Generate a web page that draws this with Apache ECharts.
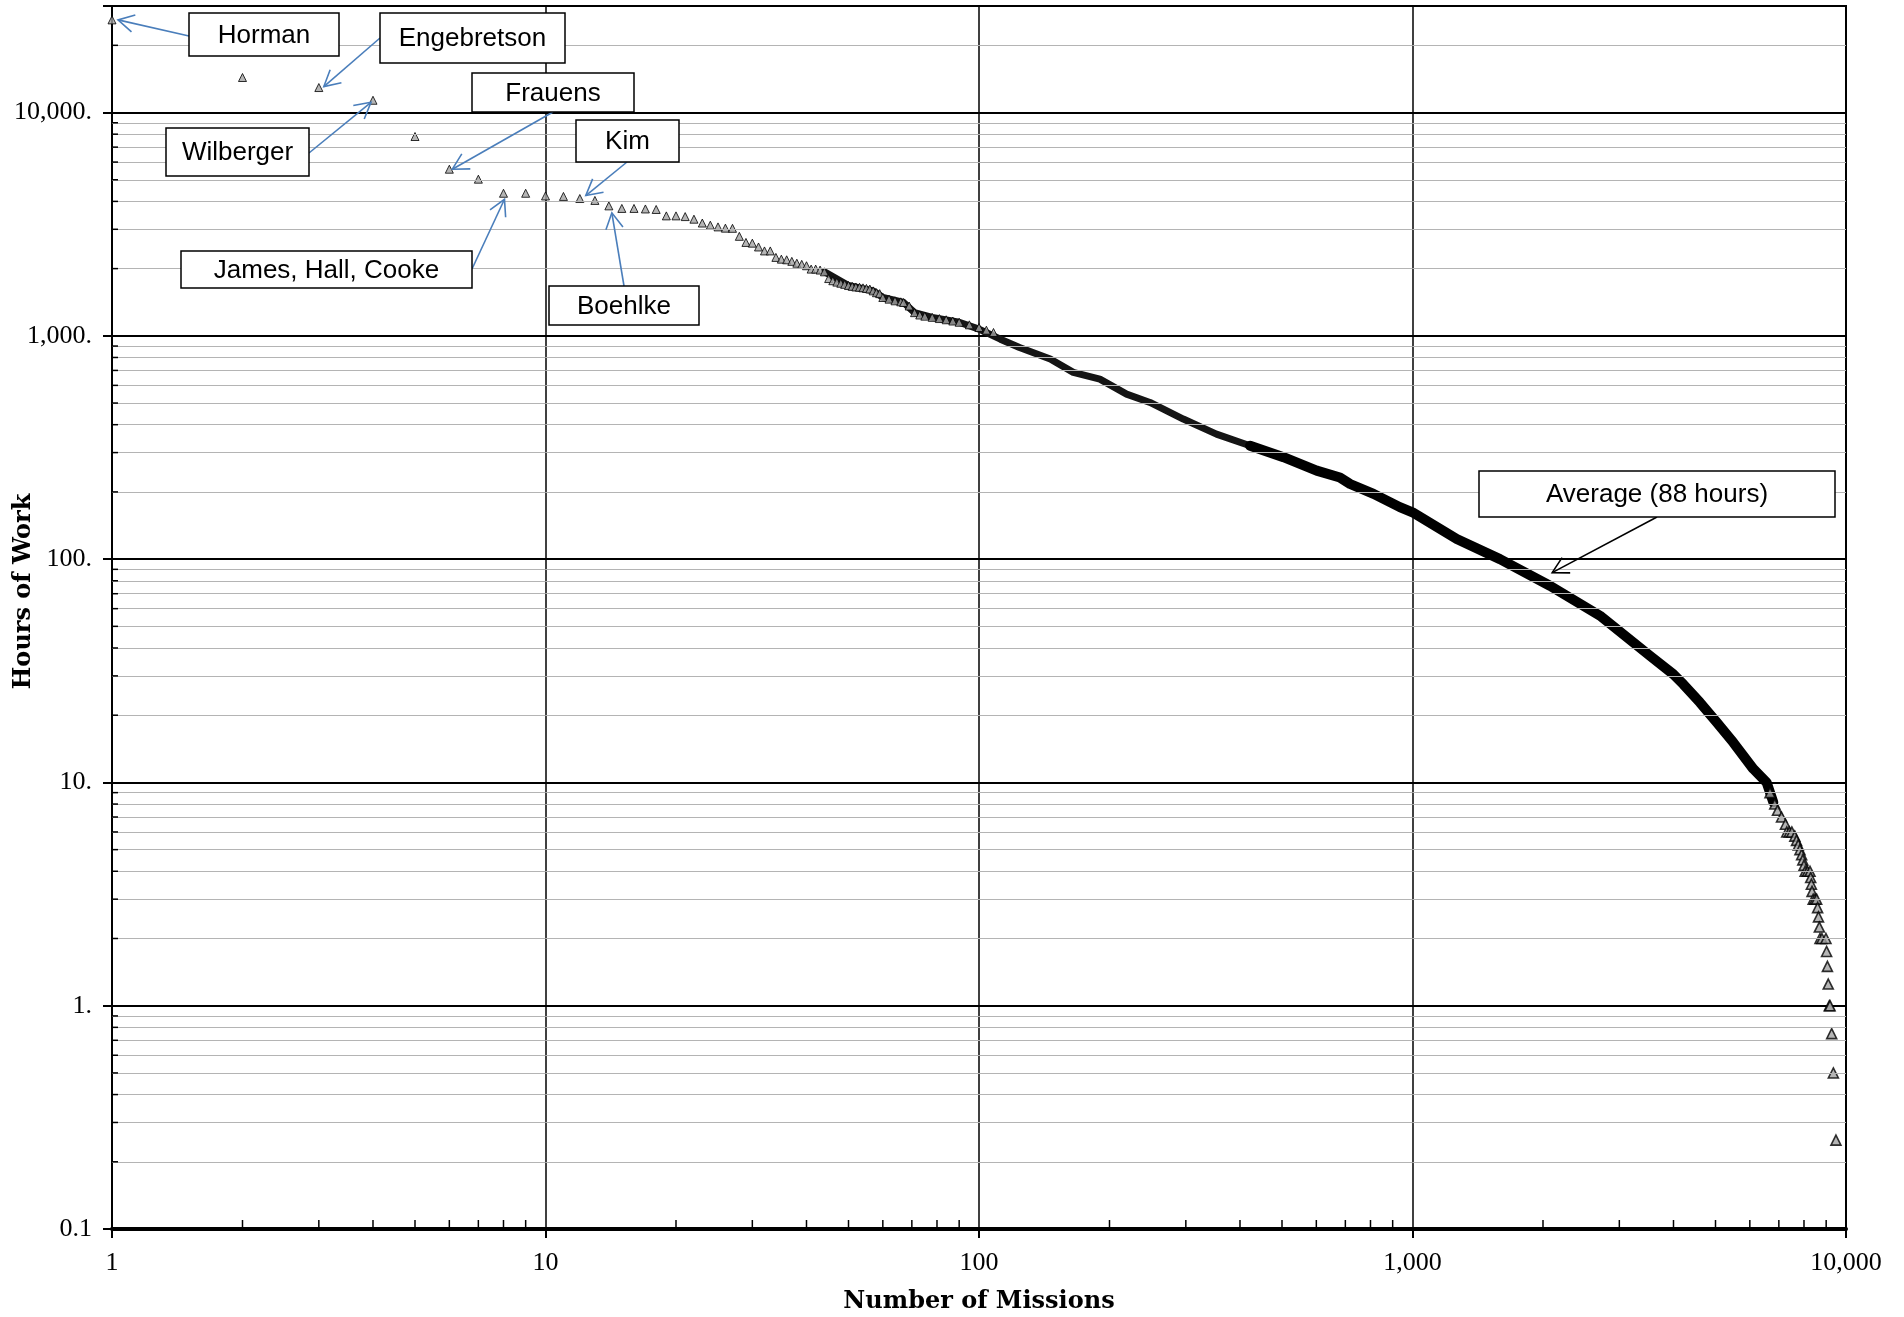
<!DOCTYPE html>
<html>
<head>
<meta charset="utf-8">
<script src="https://cdn.jsdelivr.net/npm/echarts@6/dist/echarts.min.js"></script>
<style>
  html, body { margin: 0; padding: 0; background: #fff; }
  #main { width: 1904px; height: 1317px; }
</style>
</head>
<body>
<div id="main"></div>
<script>
// missions ranked by hours, first ~110 read one by one
var topRanks = [1,2,3,4,5,6,7,8,9,10,11,12,13,14,15,16,17,18,19,20,21,22,23,24,25,26,27,28,29,30,31,32,33,34,35,36,37,38,39,40,41,42,43,44,45,46,47,48,49,50,51,52,53,54,55,56,57,58,59,60,62,64,66,67,69,71,73,75,78,81,84,87,90,95,100,104,108];
var topHours = [26000,14350,12940,11350,7810,5575,5030,4350,4350,4230,4210,4120,4040,3820,3720,3720,3700,3680,3445,3445,3420,3330,3200,3130,3075,3035,3030,2790,2620,2600,2500,2400,2400,2245,2205,2190,2155,2115,2090,2060,1990,1990,1970,1935,1805,1765,1740,1720,1700,1680,1665,1655,1650,1640,1630,1620,1590,1560,1545,1485,1460,1435,1420,1410,1360,1270,1240,1225,1210,1195,1180,1165,1150,1120,1090,1060,1035];

// the dense part of the curve (overlapping markers form a solid band)
var bandRanks = [44,50,57,60,67,71,78,90,100,112,124,146,165,190,219,248,296,353,422,504,601,680,718,813,935,1000,1265,1591,2075,2707,3532,3997,4215,4603,5031,5495,6110,6560,6797];
var bandHours = [1935,1680,1590,1485,1410,1270,1210,1150,1072,966,887,787,686,640,548,503,424,363,322,286,249,232,217,196,171,162,123,100,76,55.8,36.9,30.5,27.5,22.8,18.6,15.1,11.5,10,8.15];

// tail: hours recorded in quarter hours
var tailRanks = [6680,6850,6950,7100,7250,7300,7400,7500,7620,7690,7760,7830,7900,7950,8000,8050,8150,8260,8290,8320,8350,8400,8480,8556,8600,8640,8680,8710,8800,8990,9020,9060,9100,9150,9186,9268,9350,9480];
var tailHours = [9,8,7.5,7,6.5,6,6,6,5.75,5.5,5.25,5,4.75,4.5,4.25,4,4,4,3.75,3.5,3.25,3,3,3,2.75,2.5,2.25,2,2,2,1.75,1.5,1.25,1,1,0.75,0.5,0.25];

// minor grid values
var minorY = [0.2,0.3,0.4,0.5,0.6,0.7,0.8,0.9,2,3,4,5,6,7,8,9,20,30,40,50,60,70,80,90,200,300,400,500,600,700,800,900,2000,3000,4000,5000,6000,7000,8000,9000,20000];
var minorX = [2,3,4,5,6,7,8,9,20,30,40,50,60,70,80,90,200,300,400,500,600,700,800,900,2000,3000,4000,5000,6000,7000,8000,9000];

// call-out labels: name and the mission it points at
var noteNames = ['Horman','Engebretson','Wilberger','Frauens','Kim','James, Hall, Cooke','Boehlke','Average (88 hours)'];
var noteRanks = [1,3,4,6,12,8,14,2100];
var noteHours = [26000,12940,11350,5575,4120,4350,3820,87];

// layout of the call-outs: box [x,y,w,h], arrow start, tip offset from the point
var noteLayout = [
  {box:[189,13,150,43], from:[189,36], off:[6,0], color:'#4a7ebb'},
  {box:[380,13,185,50], from:[380,38], off:[5,-1], color:'#4a7ebb'},
  {box:[166,128,143,48], from:[309,153], off:[-2,2], color:'#4a7ebb'},
  {box:[472,73,162,39], from:[553,112], off:[3,0], color:'#4a7ebb'},
  {box:[576,120,103,42], from:[627,162], off:[6,-3], color:'#4a7ebb'},
  {box:[181,251,291,37], from:[472,269], off:[1,6], color:'#4a7ebb'},
  {box:[549,286,150,39], from:[624,286], off:[3,7], color:'#4a7ebb'},
  {box:[1479,471,356,46], from:[1657,517], off:[0,0], color:'#000'}
];

function pairs(xs, ys) {
  var out = [];
  for (var i = 0; i < xs.length; i++) {
    out.push([xs[i], ys[i]]);
  }
  return out;
}

function isDecade(v) {
  var e = Math.log(v) / Math.LN10;
  return Math.abs(e - Math.round(e)) < 0.01;
}

var fmtY = function(v) {
  if (!isDecade(v)) return '';
  var e = Math.round(Math.log(v) / Math.LN10);
  if (e < 0) return '0.1';
  return Math.pow(10, e).toLocaleString('en-US') + '.';
};
var fmtX = function(v) {
  if (!isDecade(v)) return '';
  var e = Math.round(Math.log(v) / Math.LN10);
  return Math.pow(10, e).toLocaleString('en-US');
};

var triStyle = {
  color: '#a3a3a3',
  borderColor: '#000',
  borderWidth: 1
};

// band gets thicker where markers pile up more (from rank 422 on)
var bandAll = pairs(bandRanks, bandHours);
var cut = bandRanks.indexOf(422);

var myChart = echarts.init(document.getElementById('main'));

var option = {
  animation: false,
  backgroundColor: '#fff',
  grid: {
    left: 112,
    right: 58,
    top: 6,
    bottom: 88,
    outerBoundsMode: 'none',
    containLabel: false,
    show: true,
    borderColor: '#000',
    borderWidth: 2
  },
  xAxis: {
    type: 'log',
    logBase: 10,
    min: 1,
    max: 10000,
    name: 'Number of Missions',
    nameLocation: 'middle',
    nameGap: 61,
    nameMoveOverlap: false,
    nameTextStyle: {
      fontFamily: 'DejaVu Serif',
      fontWeight: 'bold',
      fontSize: 24,
      color: '#000'
    },
    axisLine: { lineStyle: { color: '#000', width: 4 } },
    axisTick: { show: true, inside: false, length: 9, lineStyle: { color: '#000', width: 2 } },
    axisLabel: {
      margin: 21,
      fontFamily: 'Liberation Serif',
      fontSize: 26,
      color: '#000',
      formatter: fmtX
    },
    splitLine: { show: true, lineStyle: { color: '#000', width: 1.5 } }
  },
  yAxis: {
    type: 'log',
    logBase: 10,
    min: 0.1,
    max: 30000,
    name: 'Hours of Work',
    nameLocation: 'middle',
    nameGap: 76,
    nameMoveOverlap: false,
    nameTextStyle: {
      fontFamily: 'DejaVu Serif',
      fontWeight: 'bold',
      fontSize: 24,
      color: '#000',
      padding: [0, 0, 0, 52]
    },
    axisLine: { lineStyle: { color: '#000', width: 2 } },
    axisTick: { show: true, inside: false, length: 9, lineStyle: { color: '#000', width: 2 } },
    axisLabel: {
      margin: 20,
      fontFamily: 'Liberation Serif',
      fontSize: 26,
      color: '#000',
      formatter: fmtY
    },
    splitLine: { show: true, lineStyle: { color: '#000', width: 2 } }
  },
  series: [
    {
      // minor gridlines only
      type: 'scatter',
      z: 1,
      silent: true,
      data: [],
      markLine: {
        silent: true,
        symbol: ['none', 'none'],
        label: { show: false },
        emphasis: { disabled: true },
        lineStyle: { color: '#b4b4b4', width: 1, type: 'solid' },
        data: minorY.map(function(v) { return { yAxis: v }; })
      }
    },
    {
      name: 'band1',
      type: 'line',
      z: 2,
      silent: true,
      showSymbol: false,
      symbol: 'none',
      lineStyle: { color: '#151515', width: 7, cap: 'round', join: 'round' },
      data: bandAll.slice(0, cut + 1)
    },
    {
      name: 'band2',
      type: 'line',
      z: 2,
      silent: true,
      showSymbol: false,
      symbol: 'none',
      lineStyle: { color: '#000', width: 10, cap: 'round', join: 'round' },
      data: bandAll.slice(cut)
    },
    {
      name: 'top',
      type: 'scatter',
      z: 3,
      symbol: 'triangle',
      symbolSize: 8,
      itemStyle: triStyle,
      data: pairs(topRanks, topHours)
    },
    {
      name: 'tail',
      type: 'scatter',
      z: 3,
      symbol: 'triangle',
      symbolSize: 10,
      itemStyle: { color: '#a3a3a3', borderColor: '#000', borderWidth: 1.6 },
      data: pairs(tailRanks, tailHours)
    }
  ]
};
myChart.setOption(option);

// minor ticks, call-out boxes and arrows
function arrowParts(x1, y1, x2, y2, color) {
  var a = Math.atan2(y2 - y1, x2 - x1);
  var L = 18, s = 0.5;
  var head = [
    [x2 - L * Math.cos(a - s), y2 - L * Math.sin(a - s)],
    [x2, y2],
    [x2 - L * Math.cos(a + s), y2 - L * Math.sin(a + s)]
  ];
  return [
    { type: 'line', z: 100, shape: { x1: x1, y1: y1, x2: x2, y2: y2 }, style: { stroke: color, lineWidth: 1.6 } },
    { type: 'polyline', z: 100, shape: { points: head }, style: { stroke: color, lineWidth: 1.6, fill: null } }
  ];
}

var graphics = [];
var gx0 = myChart.convertToPixel({ xAxisIndex: 0 }, 1);
var gy0 = myChart.convertToPixel({ yAxisIndex: 0 }, 0.1);
for (var i = 0; i < minorY.length; i++) {
  var yy = myChart.convertToPixel({ yAxisIndex: 0 }, minorY[i]);
  graphics.push({ type: 'line', z: 50, shape: { x1: gx0, y1: yy, x2: gx0 + 6, y2: yy }, style: { stroke: '#000', lineWidth: 1.5 } });
}
for (var i = 0; i < minorX.length; i++) {
  var xx = myChart.convertToPixel({ xAxisIndex: 0 }, minorX[i]);
  graphics.push({ type: 'line', z: 50, shape: { x1: xx, y1: gy0, x2: xx, y2: gy0 - 9 }, style: { stroke: '#000', lineWidth: 1.5 } });
}

for (var i = 0; i < noteNames.length; i++) {
  var lay = noteLayout[i];
  var p = myChart.convertToPixel({ seriesIndex: 3 }, [noteRanks[i], noteHours[i]]);
  var tip = [p[0] + lay.off[0], p[1] + lay.off[1]];
  graphics = graphics.concat(arrowParts(lay.from[0], lay.from[1], tip[0], tip[1], lay.color));
  graphics.push({
    type: 'rect', z: 101,
    shape: { x: lay.box[0], y: lay.box[1], width: lay.box[2], height: lay.box[3] },
    style: { fill: '#fff', stroke: '#000', lineWidth: 1.5 }
  });
  graphics.push({
    type: 'text', z: 102,
    style: {
      text: noteNames[i],
      x: lay.box[0] + lay.box[2] / 2,
      y: lay.box[1] + lay.box[3] / 2 + 1,
      align: 'center',
      verticalAlign: 'middle',
      font: '26px "Liberation Sans", Arial, sans-serif',
      fill: '#000'
    }
  });
}

myChart.setOption({ graphic: graphics });
</script>
</body>
</html>
